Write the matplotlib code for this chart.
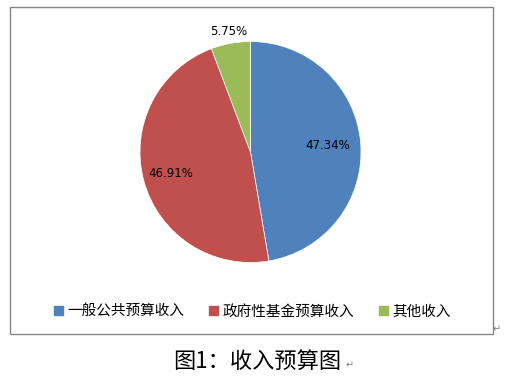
import numpy as np
import matplotlib
matplotlib.use("Agg")
import matplotlib.pyplot as plt
from matplotlib.patches import Rectangle

plt.rcParams['font.family'] = ['Noto Sans CJK SC', 'DejaVu Sans']

categories = ["一般公共预算收入", "政府性基金预算收入", "其他收入"]
shares = [47.34, 46.91, 5.75]
colors = ["#4F81BD", "#C0504D", "#9BBB59"]
label_dist = [0.70, 0.75, 1.11]

W, H = 509, 384
fig = plt.figure(figsize=(W / 100, H / 100), dpi=100)

# chart frame
fig.patches.append(Rectangle((9.5 / W, 1 - 334 / H), 483 / W, 327 / H,
                             transform=fig.transFigure, fill=False,
                             edgecolor="#868686", linewidth=1))

# pie axes: centre (250.5, 152) px, radius 110.5 px
r = 110.5
ax = fig.add_axes([(250.5 - r) / W, 1 - (152 + r) / H, 2 * r / W, 2 * r / H])
wedges, _ = ax.pie(shares, colors=colors, startangle=90, counterclock=False,
                   radius=1, wedgeprops=dict(edgecolor="white", linewidth=0.5))
ax.set_xlim(-1, 1)
ax.set_ylim(-1, 1)
ax.axis("off")

for w, v, d in zip(wedges, shares, label_dist):
    ang = np.deg2rad((w.theta1 + w.theta2) / 2)
    ax.text(d * np.cos(ang), d * np.sin(ang), f"{v:.2f}%",
            ha="center", va="center", fontsize=8.5,
            family=["DejaVu Sans"], color="black")

# legend
handles = [Rectangle((0, 0), 1, 1, color=c) for c in colors]
fig.legend(handles, categories, loc="center", bbox_to_anchor=(252 / W, 1 - 311.5 / H),
           ncol=3, frameon=False, fontsize=10.5, handlelength=0.62, handleheight=0.62,
           handletextpad=0.3, columnspacing=1.7)

# return marks and caption
fig.text(493 / W, 1 - 329 / H, "↵", fontsize=7, color="#808080",
         ha="left", va="center", family=["DejaVu Sans"])
fig.text(257 / W, 1 - 361 / H, "图1：收入预算图", fontsize=16,
         ha="center", va="center")
fig.text(346 / W, 1 - 365 / H, "↵", fontsize=7, color="#808080",
         ha="left", va="center", family=["DejaVu Sans"])

fig.savefig("out.png", dpi=100)
